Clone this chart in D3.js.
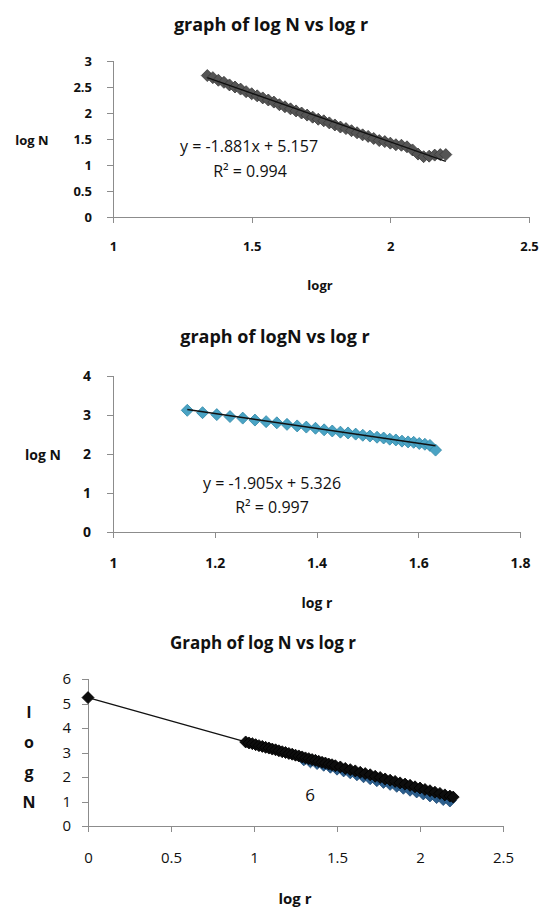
<!DOCTYPE html>
<html>
<head>
<meta charset="utf-8">
<script src="https://cdnjs.cloudflare.com/ajax/libs/d3/7.8.5/d3.min.js"></script>
<style>
  body { margin: 0; background: #fff; }
  text { font-family: "Open Sans", "Liberation Sans", sans-serif; fill: #111; }
  .axis path, .axis line { stroke: #8c8c8c; shape-rendering: crispEdges; }
</style>
</head>
<body>
<div id="chart"></div>
<script>

// ---- data ----

// panel 1 : graph of log N vs log r
var logr1 = [1.34, 1.36, 1.38, 1.40, 1.42, 1.44, 1.46, 1.48, 1.50, 1.52, 1.54, 1.56, 1.58, 1.60,
             1.62, 1.64, 1.66, 1.68, 1.70, 1.72, 1.74, 1.76, 1.78, 1.80, 1.82, 1.84, 1.86, 1.88,
             1.90, 1.92, 1.94, 1.96, 1.98, 2.00, 2.02, 2.04, 2.06, 2.08, 2.10, 2.12, 2.14, 2.16,
             2.18, 2.20];
var logN1 = [2.72, 2.68, 2.63, 2.59, 2.54, 2.50, 2.46, 2.41, 2.37, 2.33, 2.29, 2.25, 2.21, 2.16,
             2.12, 2.08, 2.04, 2.00, 1.96, 1.92, 1.88, 1.85, 1.81, 1.77, 1.73, 1.70, 1.66, 1.62,
             1.58, 1.55, 1.51, 1.47, 1.45, 1.42, 1.39, 1.38, 1.35, 1.29, 1.21, 1.16, 1.17, 1.19,
             1.20, 1.20];
var trend1X = [1.34, 2.20];
var trend1Y = [2.68, 1.07];
var xTicks1 = [1, 1.5, 2, 2.5];
var yTicks1 = [0, 0.5, 1, 1.5, 2, 2.5, 3];

// panel 2 : graph of logN vs log r
var logr2 = [1.146, 1.176, 1.204, 1.230, 1.255, 1.279, 1.301, 1.322, 1.342, 1.362, 1.380, 1.398,
             1.415, 1.431, 1.447, 1.462, 1.477, 1.491, 1.505, 1.519, 1.532, 1.544, 1.556, 1.568,
             1.580, 1.591, 1.602, 1.613, 1.623, 1.634];
var logN2 = [3.12, 3.06, 3.01, 2.96, 2.92, 2.87, 2.83, 2.80, 2.76, 2.72, 2.69, 2.66,
             2.62, 2.59, 2.56, 2.54, 2.51, 2.48, 2.46, 2.43, 2.41, 2.38, 2.36, 2.33,
             2.31, 2.30, 2.27, 2.25, 2.22, 2.10];
var trend2X = [1.146, 1.634];
var trend2Y = [3.143, 2.213];
var xTicks2 = [1, 1.2, 1.4, 1.6, 1.8];
var yTicks2 = [0, 1, 2, 3, 4];

// panel 3 : Graph of log N vs log r
var logr3 = [0, 0.95, 0.97, 0.99, 1.01, 1.03, 1.05, 1.07, 1.09, 1.11, 1.13, 1.15, 1.17, 1.19,
             1.21, 1.23, 1.25, 1.27, 1.29, 1.31, 1.33, 1.35, 1.37, 1.39, 1.41, 1.43, 1.45,
             1.47, 1.49, 1.52, 1.55, 1.58, 1.61, 1.64, 1.67, 1.70, 1.73, 1.76, 1.79, 1.82,
             1.85, 1.88, 1.91, 1.94, 1.97, 2.00, 2.03, 2.06, 2.09, 2.12, 2.15, 2.18, 2.20];
var logN3 = [5.24, 3.43, 3.39, 3.36, 3.32, 3.28, 3.25, 3.21, 3.18, 3.14, 3.11, 3.07, 3.03, 3.00,
             2.96, 2.93, 2.89, 2.86, 2.82, 2.78, 2.75, 2.71, 2.68, 2.64, 2.60, 2.57, 2.53,
             2.50, 2.46, 2.41, 2.35, 2.30, 2.25, 2.19, 2.14, 2.09, 2.03, 1.98, 1.92, 1.87,
             1.82, 1.76, 1.71, 1.66, 1.60, 1.55, 1.49, 1.44, 1.38, 1.33, 1.27, 1.22, 1.18];
// blue series showing underneath the black one toward the right
var logr3b = [1.30, 1.34, 1.38, 1.42, 1.46, 1.50, 1.54, 1.58, 1.62, 1.66, 1.70, 1.74, 1.78,
              1.82, 1.86, 1.90, 1.94, 1.98, 2.02, 2.06, 2.10, 2.14, 2.18];
var logN3b = [2.72, 2.64, 2.57, 2.50, 2.42, 2.34, 2.27, 2.19, 2.11, 2.03, 1.95, 1.87, 1.80,
              1.72, 1.64, 1.56, 1.48, 1.41, 1.33, 1.25, 1.18, 1.10, 1.04];
var xTicks3 = [0, 0.5, 1, 1.5, 2, 2.5];
var yTicks3 = [0, 1, 2, 3, 4, 5, 6];

function zip(xs, ys) {
  return xs.map(function(x, i) { return {x: x, y: ys[i]}; });
}

// Create SVG item
var svg = d3.select('#chart')
            .append('svg')
            .attr('width', 540)
            .attr('height', 907);

svg.append('rect').attr('width', 540).attr('height', 907).attr('fill', '#fff');

// draws axes, title and labels for one panel, hands back the scales
function drawFrame(p) {
  var x = d3.scaleLinear().domain(p.xDomain).range(p.xRange);
  var y = d3.scaleLinear().domain(p.yDomain).range(p.yRange);

  svg.append('g')
     .attr('class', 'axis')
     .attr('transform', 'translate(0,' + p.yRange[0] + ')')
     .call(d3.axisBottom(x)
        .tickValues(p.xTicks)
        .tickSizeOuter(0)
        .tickSize(6)
        .tickPadding(p.xPad)
        .tickFormat(d3.format('~g')))
     .selectAll('text')
        .style('font-size', p.tickFont + 'px')
        .style('font-weight', p.tickWeight);

  svg.append('g')
     .attr('class', 'axis')
     .attr('transform', 'translate(' + p.xRange[0] + ',0)')
     .call(d3.axisLeft(y)
        .tickValues(p.yTicks)
        .tickSizeOuter(0)
        .tickSize(6)
        .tickPadding(p.yPad)
        .tickFormat(d3.format('~g')))
     .selectAll('text')
        .style('font-size', p.tickFont + 'px')
        .style('font-weight', p.tickWeight);

  svg.selectAll('.axis .domain').attr('stroke', '#8c8c8c');

  // title
  svg.append('text')
     .attr('x', p.titleX)
     .attr('y', p.titleY)
     .style('text-anchor', 'middle')
     .style('font-size', p.titleFont + 'px')
     .style('font-weight', 'bold')
     .text(p.title);

  // x axis label
  svg.append('text')
     .attr('x', p.xLabelX)
     .attr('y', p.xLabelY)
     .style('text-anchor', 'middle')
     .style('font-size', p.labelFont + 'px')
     .style('font-weight', 'bold')
     .text(p.xLabel);

  return {x: x, y: y};
}

function drawPoints(s, pts, fill, stroke, width) {
  var sym = d3.symbol().type(d3.symbolDiamond2).size(Math.pow(width / 2 / 0.62625, 2));
  svg.append('g').selectAll('path')
     .data(pts)
     .enter().append('path')
     .attr('transform', function(d) { return 'translate(' + s.x(d.x) + ',' + s.y(d.y) + ')'; })
     .attr('d', sym)
     .attr('fill', fill)
     .attr('stroke', stroke)
     .attr('stroke-width', 0.8);
}

function drawLine(s, pts, color, w) {
  var line = d3.line()
      .x(function(d) { return s.x(d.x); })
      .y(function(d) { return s.y(d.y); });
  svg.append('path')
     .datum(pts)
     .attr('fill', 'none')
     .attr('stroke', color)
     .attr('stroke-width', w)
     .attr('d', line);
}

// ---- panel 1 ----
var s1 = drawFrame({
  xDomain: [1, 2.5], xRange: [113, 529], yDomain: [0, 3], yRange: [217, 61],
  xTicks: xTicks1, yTicks: yTicks1, xPad: 19, yPad: 15, tickFont: 13, tickWeight: 'bold',
  title: 'graph of log N vs log r', titleX: 271, titleY: 31, titleFont: 18,
  xLabel: 'logr', xLabelX: 320, xLabelY: 290, labelFont: 13
});
drawPoints(s1, zip(logr1, logN1), '#555', '#3a3a3a', 12);
drawLine(s1, zip(trend1X, trend1Y), '#111', 1.3);

svg.append('text').attr('x', 32).attr('y', 145)
   .style('text-anchor', 'middle').style('font-size', '13px').style('font-weight', 'bold')
   .text('log N');
svg.append('text').attr('x', 249).attr('y', 152)
   .style('text-anchor', 'middle').style('font-size', '16px')
   .text('y = -1.881x + 5.157');
svg.append('text').attr('x', 250).attr('y', 177)
   .style('text-anchor', 'middle').style('font-size', '16px')
   .text('R² = 0.994');

// ---- panel 2 ----
var s2 = drawFrame({
  xDomain: [1, 1.8], xRange: [113, 520], yDomain: [0, 4], yRange: [532, 376],
  xTicks: xTicks2, yTicks: yTicks2, xPad: 20, yPad: 16, tickFont: 14, tickWeight: 'bold',
  title: 'graph of logN vs log r', titleX: 275, titleY: 343, titleFont: 18,
  xLabel: 'log r', xLabelX: 317, xLabelY: 608, labelFont: 14
});
drawPoints(s2, zip(logr2, logN2), '#4aa3c4', '#2f86a6', 12);
drawLine(s2, zip(trend2X, trend2Y), '#111', 1.5);

svg.append('text').attr('x', 43).attr('y', 460)
   .style('text-anchor', 'middle').style('font-size', '14px').style('font-weight', 'bold')
   .text('log N');
svg.append('text').attr('x', 272).attr('y', 489)
   .style('text-anchor', 'middle').style('font-size', '16px')
   .text('y = -1.905x + 5.326');
svg.append('text').attr('x', 272).attr('y', 513)
   .style('text-anchor', 'middle').style('font-size', '16px')
   .text('R² = 0.997');

// ---- panel 3 ----
var s3 = drawFrame({
  xDomain: [0, 2.5], xRange: [88, 503], yDomain: [0, 6], yRange: [826, 679],
  xTicks: xTicks3, yTicks: yTicks3, xPad: 20, yPad: 11, tickFont: 15, tickWeight: 'normal',
  title: 'Graph of log N vs log r', titleX: 263, titleY: 649, titleFont: 17,
  xLabel: 'log r', xLabelX: 295, xLabelY: 904, labelFont: 15
});
drawPoints(s3, zip(logr3b, logN3b), '#2c5f8e', '#1f4a73', 13);
drawLine(s3, zip(logr3, logN3), '#111', 1.3);
drawPoints(s3, zip(logr3, logN3), '#0d0d0d', '#000', 12);

// stacked y label
svg.append('g').selectAll('text')
   .data(['l', 'o', 'g', 'N'])
   .enter().append('text')
   .attr('x', 29)
   .attr('y', function(d, i) { return 718 + i * 30; })
   .style('text-anchor', 'middle').style('font-size', '16px').style('font-weight', 'bold')
   .text(function(d) { return d; });

svg.append('text').attr('x', 310).attr('y', 801)
   .style('text-anchor', 'middle').style('font-size', '17px')
   .text('6');

</script>
</body>
</html>
